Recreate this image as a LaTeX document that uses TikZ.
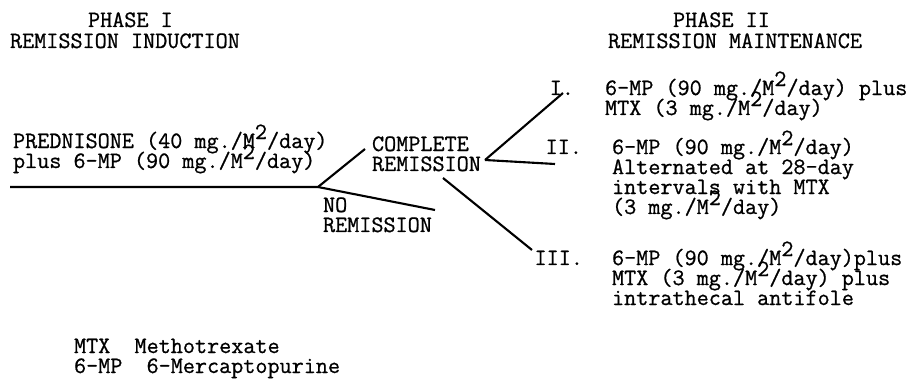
\documentclass[tikz,border=0pt]{standalone}
\usepackage{fontspec}
\newfontfamily\typer{Latin Modern Mono}[FakeBold=0.8]
\usetikzlibrary{positioning}
\newcommand{\msq}{M\raisebox{.38em}{2}}
\lineskiplimit=-50pt
\begin{document}
\begin{tikzpicture}[x=0.025cm,y=-0.025cm,line width=1.5pt,
    every node/.style={inner sep=0pt,anchor=base west,align=left,
      font=\typer\fontsize{16.7}{14.2}\selectfont}]
    \useasboundingbox (0,0) rectangle (918,379);
    % phases
    \node (ph1) at (87,27) {PHASE I};
    \node (ind) at (9,48) {REMISSION INDUCTION};
    \node (ph2) at (672,27) {PHASE II};
    \node (mnt) at (607,48) {REMISSION MAINTENANCE};
    % induction (nodes sit on their last line)
    \node (pred) at (12,168) {PREDNISONE (40 mg./\msq/day)\\plus 6-MP (90 mg./\msq/day)};
    \node (cr) at (371,171) {COMPLETE\\REMISSION};
    \node (nr) at (322,232) {NO\\REMISSION};
    % maintenance
    \node[anchor=base east] (n1) at (575,95) {I.};
    \node (r1) at (604,115) {6-MP (90 mg./\msq/day) plus\\MTX (3 mg./\msq/day)};
    \node[anchor=base east] (n2) at (583,154) {II.};
    \node (r2) at (611,214) {6-MP (90 mg./\msq/day)\\Alternated at 28-day\\intervals with MTX\\(3 mg./\msq/day)};
    \node[anchor=base east] (n3) at (584,265) {III.};
    \node (r3) at (611,305) {6-MP (90 mg./\msq/day)plus\\MTX (3 mg./\msq/day) plus\\intrathecal antifole};
    % legend
    \node (key) at (73,373) {MTX\ \ Methotrexate\\6-MP\ \ 6-Mercaptopurine};
    % lines
    \coordinate (st) at (10,187);
    \coordinate (fork) at (318,187);
    \coordinate (up) at (365,149);
    \coordinate (dn) at (435,210);
    \coordinate (crend) at (485,160);
    \coordinate (crlow) at (443,178);
    \draw (st) -- (fork) -- (up);
    \draw (fork) -- (dn);
    \draw (crend) -- (563,93) coordinate (to1);
    \draw (crend) -- (555,164) coordinate (to2);
    \draw (crlow) -- (532,250) coordinate (to3);
\end{tikzpicture}
\end{document}
